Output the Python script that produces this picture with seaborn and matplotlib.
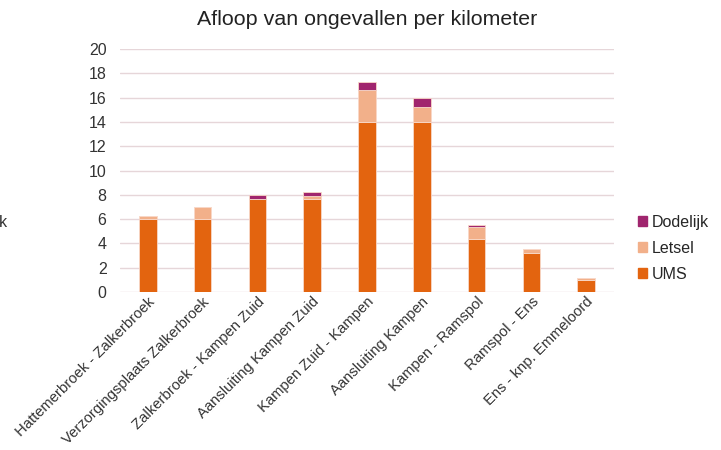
import numpy as np
import pandas as pd
import matplotlib
matplotlib.use("Agg")
import matplotlib.pyplot as plt
import seaborn as sns

trajecten = ["Hattemerbroek - Zalkerbroek", "Verzorgingsplaats Zalkerbroek",
             "Zalkerbroek - Kampen Zuid", "Aansluiting Kampen Zuid",
             "Kampen Zuid - Kampen", "Aansluiting Kampen", "Kampen - Ramspol",
             "Ramspol - Ens", "Ens - knp. Emmeloord"]
ums = [6.0, 6.0, 7.65, 7.65, 14.0, 14.0, 4.35, 3.2, 1.0]
letsel = [0.25, 1.0, 0.0, 0.27, 2.6, 1.25, 1.0, 0.35, 0.12]
dodelijk = [0.0, 0.0, 0.3, 0.33, 0.7, 0.7, 0.2, 0.0, 0.0]

c_ums = "#E3640F"
c_letsel = "#F2B08A"
c_dood = "#A0256E"

sns.set_style("white")
plt.rcParams["font.family"] = ["Liberation Sans", "DejaVu Sans"]

df = pd.DataFrame({"traject": trajecten, "UMS": ums, "Letsel": letsel, "Dodelijk": dodelijk})
df["bodem_dood"] = df["UMS"] + df["Letsel"]

fig = plt.figure(figsize=(7.21, 4.5), dpi=100)
ax = fig.add_axes([0.167, 0.351, 0.684, 0.54])

bar_kw = dict(width=0.32, edgecolor="#F8D8C8", linewidth=0.6, zorder=3)
sns.barplot(data=df, x="traject", y="UMS", color=c_ums, saturation=1, ax=ax, **bar_kw)
sns.barplot(data=df, x="traject", y="Letsel", bottom=df["UMS"], color=c_letsel,
            saturation=1, ax=ax, **bar_kw)
sns.barplot(data=df, x="traject", y="Dodelijk", bottom=df["bodem_dood"], color=c_dood,
            saturation=1, ax=ax, **bar_kw)

ax.set_ylim(0, 20)
ax.set_yticks(np.arange(0, 21, 2))
ax.set_xlim(-0.5, len(trajecten) - 0.5)
ax.yaxis.grid(True, color="#E6D6D9", linewidth=1, zorder=0)
ax.set_axisbelow(True)
for s in ax.spines.values():
    s.set_visible(False)
ax.set_xlabel("")
ax.set_ylabel("")
ax.tick_params(axis="y", labelsize=11.5, colors="#333333", length=0, pad=10)
ax.tick_params(axis="x", labelsize=10.6, colors="#333333", length=0, pad=2)
plt.setp(ax.get_xticklabels(), rotation=45, ha="right", rotation_mode="anchor")

ax.set_title("Afloop van ongevallen per kilometer", fontsize=15.4, color="#222222", pad=17)

handles = [plt.Rectangle((0, 0), 1, 1, color=c) for c in (c_dood, c_letsel, c_ums)]
ax.legend(handles, ["Dodelijk", "Letsel", "UMS"], loc="center left",
          bbox_to_anchor=(1.02, 0.18), frameon=False, fontsize=11.5,
          handlelength=0.6, handleheight=0.6, handletextpad=0.3, labelspacing=0.7)

fig.text(-0.002, 0.505, "k", fontsize=11.5, color="#333333", va="center")

fig.savefig("out.png", dpi=100)
